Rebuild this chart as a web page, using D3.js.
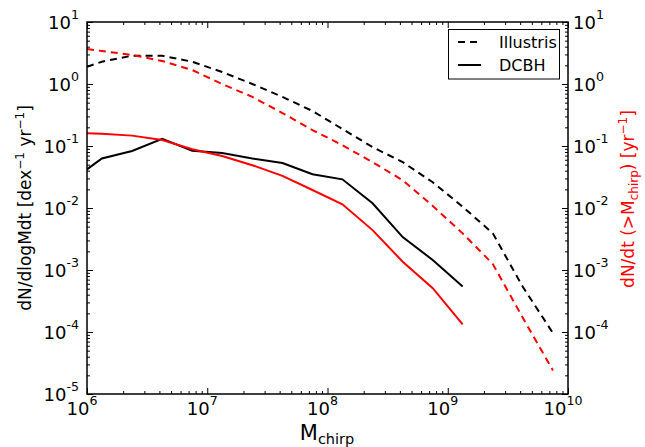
<!DOCTYPE html>
<html><head><meta charset="utf-8">
<script src="https://cdnjs.cloudflare.com/ajax/libs/d3/7.8.5/d3.min.js"></script>
<style>body{margin:0;background:#fff}svg{display:block;font-family:"DejaVu Sans",sans-serif}</style>
</head><body><svg id="c" width="645" height="447"></svg>
<script>
// Chirp mass grid (Msun)
const mchirp = [1e6, 1.33e6, 2.37e6, 4.22e6, 7.5e6, 1.33e7, 2.37e7, 4.22e7, 7.5e7, 1.33e8, 2.37e8, 4.22e8, 7.5e8, 1.33e9, 2.37e9, 4.22e9, 7.5e9];
// Illustris differential rate (black dashed)
const illustrisDiff = [1.9, 2.29, 2.86, 2.86, 2.29, 1.56, 1.0, 0.62, 0.367, 0.188, 0.096, 0.055, 0.026, 0.0105, 0.0039, 0.00053, 0.000096];
// Illustris cumulative rate (red dashed)
const illustrisCum = [3.67, 3.4, 2.94, 2.35, 1.68, 1.0, 0.62, 0.34, 0.181, 0.103, 0.055, 0.028, 0.0108, 0.0039, 0.00125, 0.000168, 0.000024];
// DCBH differential rate (black solid)
const dcbhDiff = [0.042, 0.063, 0.083, 0.13, 0.084, 0.077, 0.063, 0.053, 0.035, 0.029, 0.0119, 0.0034, 0.00145, 0.00054];
// DCBH cumulative rate (red solid)
const dcbhCum = [0.16, 0.158, 0.147, 0.125, 0.0885, 0.069, 0.049, 0.033, 0.0195, 0.0115, 0.0044, 0.00136, 0.00051, 0.000133];

const xTickExps = [6, 7, 8, 9, 10];
const yTickExps = [-5, -4, -3, -2, -1, 0, 1];
const yRightLabelExps = [-4, -3, -2, -1, 0, 1];
const legendLabels = ["Illustris", "DCBH"];

const svg = d3.select("#c");
const L = 87, R = 568, T = 22, B = 394;
const x = d3.scaleLog().domain([1e6, 1e10]).range([L, R]);
const y = d3.scaleLog().domain([1e-5, 1e1]).range([B, T]);

const xMajor = xTickExps.map(e => Math.pow(10, e));
const yMajor = yTickExps.map(e => Math.pow(10, e));
const minorOf = (exps) => {
  const out = [];
  for (let i = 0; i < exps.length - 1; i++)
    for (let k = 2; k <= 9; k++) out.push(k * Math.pow(10, exps[i]));
  return out;
};
const xMinor = minorOf(xTickExps), yMinor = minorOf(yTickExps);

function styleAxis(g) {
  g.select(".domain").remove();
  g.selectAll(".tick line").attr("stroke", "#000").attr("stroke-width", 1);
}
// bottom/top
svg.append("g").attr("transform", `translate(0,${B})`).call(d3.axisBottom(x).tickValues(xMajor).tickSize(-6).tickFormat("")).call(styleAxis);
svg.append("g").attr("transform", `translate(0,${B})`).call(d3.axisBottom(x).tickValues(xMinor).tickSize(-3).tickFormat("")).call(styleAxis);
svg.append("g").attr("transform", `translate(0,${T})`).call(d3.axisTop(x).tickValues(xMajor).tickSize(-6).tickFormat("")).call(styleAxis);
svg.append("g").attr("transform", `translate(0,${T})`).call(d3.axisTop(x).tickValues(xMinor).tickSize(-3).tickFormat("")).call(styleAxis);
// left/right
svg.append("g").attr("transform", `translate(${L},0)`).call(d3.axisLeft(y).tickValues(yMajor).tickSize(-6).tickFormat("")).call(styleAxis);
svg.append("g").attr("transform", `translate(${L},0)`).call(d3.axisLeft(y).tickValues(yMinor).tickSize(-3).tickFormat("")).call(styleAxis);
svg.append("g").attr("transform", `translate(${R},0)`).call(d3.axisRight(y).tickValues(yMajor).tickSize(-6).tickFormat("")).call(styleAxis);
svg.append("g").attr("transform", `translate(${R},0)`).call(d3.axisRight(y).tickValues(yMinor).tickSize(-3).tickFormat("")).call(styleAxis);

// tick labels
function powLabel(sel, e) {
  sel.append("tspan").text("10");
  sel.append("tspan").attr("dy", -10).attr("font-size", 12.6).text(e < 0 ? "-" + (-e) : String(e));
}
xTickExps.forEach(e => {
  const t = svg.append("text").attr("x", x(Math.pow(10, e)) - 5).attr("y", B + 21)
    .attr("font-size", 18).attr("text-anchor", "middle");
  powLabel(t, e);
});
yTickExps.forEach(e => {
  const v = Math.pow(10, e);
  const tl = svg.append("text").attr("x", 79).attr("y", y(v) + 7).attr("font-size", 18).attr("text-anchor", "end");
  powLabel(tl, e);
});
yRightLabelExps.forEach(e => {
  const v = Math.pow(10, e);
  const tr = svg.append("text").attr("x", 573).attr("y", y(v) + 7).attr("font-size", 18).attr("text-anchor", "start");
  powLabel(tr, e);
});

// data lines
svg.append("clipPath").attr("id", "pa").append("rect").attr("x", L).attr("y", T).attr("width", R - L).attr("height", B - T);
const line = d3.line().x(d => x(d[0])).y(d => y(d[1]));
const g = svg.append("g").attr("clip-path", "url(#pa)");
const series = [
  {vals: illustrisDiff, color: "#000", dash: "7,5"},
  {vals: illustrisCum, color: "#ff0000", dash: "7,5"},
  {vals: dcbhDiff, color: "#000", dash: null},
  {vals: dcbhCum, color: "#ff0000", dash: null},
];
series.forEach(s => {
  g.append("path").datum(s.vals.map((v, i) => [mchirp[i], v]))
    .attr("d", line).attr("fill", "none").attr("stroke", s.color).attr("stroke-width", 2)
    .attr("stroke-dasharray", s.dash);
});

// frame
svg.append("rect").attr("x", L).attr("y", T).attr("width", R - L).attr("height", B - T)
  .attr("fill", "none").attr("stroke", "#000").attr("stroke-width", 1.5);

// legend
const lg = svg.append("g");
lg.append("rect").attr("x", 448.5).attr("y", 29.5).attr("width", 111).attr("height", 49.5)
  .attr("fill", "#fff").attr("stroke", "#000").attr("stroke-width", 1);
[{dash: "7,5", yy: 42}, {dash: null, yy: 65}].forEach((d, i) => {
  lg.append("line").attr("x1", 458).attr("x2", 481).attr("y1", d.yy).attr("y2", d.yy)
    .attr("stroke", "#000").attr("stroke-width", 2).attr("stroke-dasharray", d.dash);
  lg.append("text").attr("x", 499).attr("y", d.yy + 6).attr("font-size", 16).text(legendLabels[i]);
});

// axis titles
const xt = svg.append("text").attr("x", 327).attr("y", 440).attr("text-anchor", "middle").attr("font-size", 21);
xt.append("tspan").text("M");
xt.append("tspan").attr("font-size", 14.5).attr("dy", 4).text("chirp");

const yl = svg.append("text").attr("transform", "translate(31,208) rotate(-90)").attr("text-anchor", "middle").attr("font-size", 17);
yl.append("tspan").text("dN/dlogMdt [dex");
yl.append("tspan").attr("font-size", 12).attr("dy", -7).text("−1");
yl.append("tspan").attr("dy", 7).text(" yr");
yl.append("tspan").attr("font-size", 12).attr("dy", -7).text("−1");
yl.append("tspan").attr("dy", 7).text("]");

const yr = svg.append("text").attr("transform", "translate(634,199) rotate(-90)").attr("text-anchor", "middle").attr("font-size", 17).attr("fill", "#ff0000");
yr.append("tspan").text("dN/dt (>M");
yr.append("tspan").attr("font-size", 12).attr("dy", 4).text("chirp");
yr.append("tspan").attr("dy", -4).text(") [yr");
yr.append("tspan").attr("font-size", 12).attr("dy", -7).text("−1");
yr.append("tspan").attr("dy", 7).text("]");
</script></body></html>
